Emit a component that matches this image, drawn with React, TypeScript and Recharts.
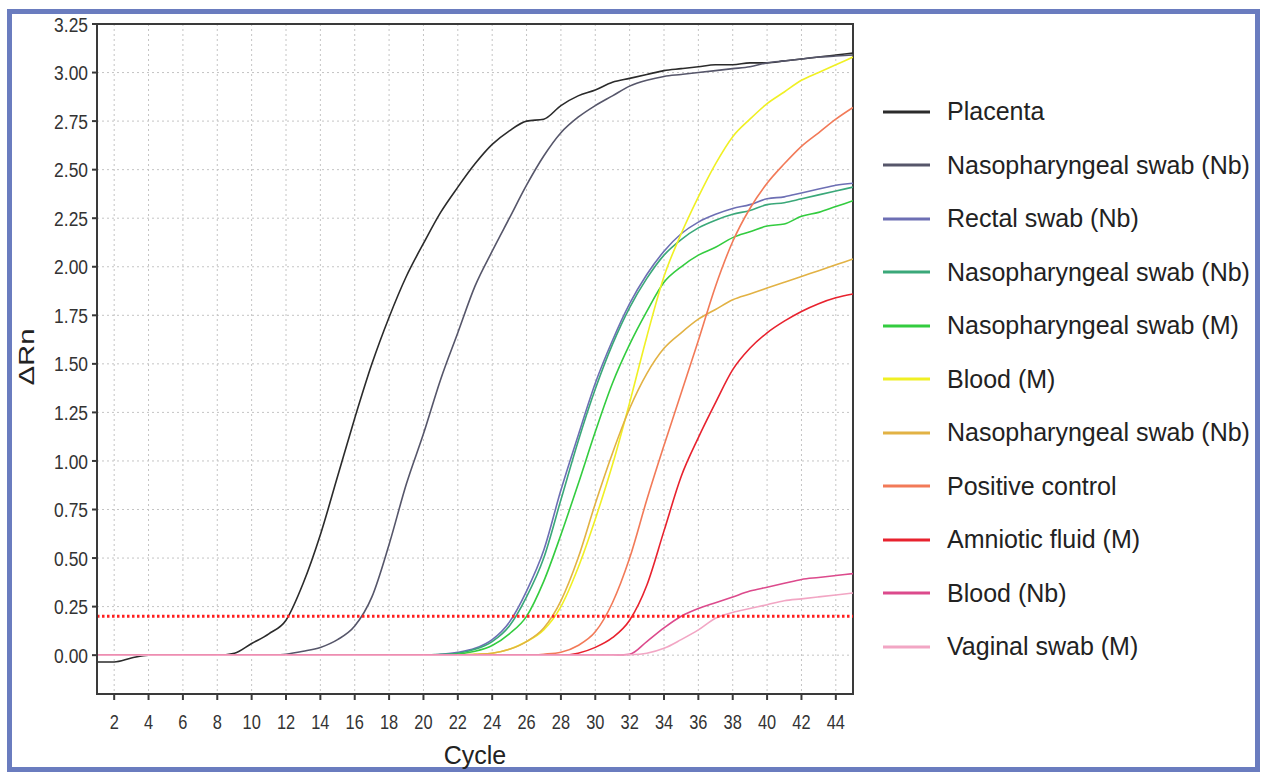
import React from "react";
import {
  LineChart,
  Line,
  XAxis,
  YAxis,
  CartesianGrid,
  ReferenceLine,
  ReferenceArea,
  Label,
} from "recharts";

// amplification plot: ΔRn per cycle for each sample
const cycles = [
  1, 2, 3, 4, 5, 6, 7, 8, 9, 10, 11, 12, 13, 14, 15, 16, 17, 18, 19, 20, 21, 22,
  23, 24, 25, 26, 27, 28, 29, 30, 31, 32, 33, 34, 35, 36, 37, 38, 39, 40, 41, 42,
  43, 44, 45,
];

const placenta = [
  -0.035, -0.035, -0.015, 0, 0, 0, 0, 0, 0.01, 0.06, 0.11, 0.18, 0.37, 0.62,
  0.92, 1.22, 1.5, 1.74, 1.95, 2.12, 2.28, 2.41, 2.53, 2.63, 2.7, 2.75, 2.76,
  2.83, 2.88, 2.91, 2.95, 2.97, 2.99, 3.01, 3.02, 3.03, 3.04, 3.04, 3.05, 3.05,
  3.06, 3.07, 3.08, 3.09, 3.1,
];
const nasoNbGray = [
  0, 0, 0, 0, 0, 0, 0, 0, 0, 0, 0, 0.005, 0.02, 0.04, 0.08, 0.15, 0.3, 0.57,
  0.88, 1.14, 1.42, 1.66, 1.9, 2.08, 2.25, 2.42, 2.57, 2.69, 2.77, 2.83, 2.88,
  2.93, 2.96, 2.98, 2.99, 3.0, 3.01, 3.02, 3.03, 3.05, 3.06, 3.07, 3.08, 3.085,
  3.09,
];
const rectalNb = [
  0, 0, 0, 0, 0, 0, 0, 0, 0, 0, 0, 0, 0, 0, 0, 0, 0, 0, 0, 0, 0.005, 0.015,
  0.035, 0.08, 0.17, 0.33, 0.54, 0.85, 1.13, 1.4, 1.62, 1.81, 1.96, 2.08, 2.17,
  2.23, 2.27, 2.3, 2.32, 2.35, 2.36, 2.38, 2.4, 2.42, 2.43,
];
const nasoNbTeal = [
  0, 0, 0, 0, 0, 0, 0, 0, 0, 0, 0, 0, 0, 0, 0, 0, 0, 0, 0, 0, 0.005, 0.01, 0.03,
  0.07, 0.15, 0.3, 0.5, 0.8, 1.1, 1.37, 1.6, 1.79, 1.94, 2.06, 2.14, 2.2, 2.24,
  2.27, 2.29, 2.32, 2.33, 2.35, 2.37, 2.39, 2.41,
];
const nasoM = [
  0, 0, 0, 0, 0, 0, 0, 0, 0, 0, 0, 0, 0, 0, 0, 0, 0, 0, 0, 0, 0, 0.005, 0.02,
  0.05, 0.11, 0.2, 0.38, 0.62, 0.88, 1.15, 1.4, 1.6, 1.77, 1.92, 2.0, 2.06, 2.1,
  2.15, 2.18, 2.21, 2.22, 2.26, 2.28, 2.31, 2.34,
];
const bloodM = [
  0, 0, 0, 0, 0, 0, 0, 0, 0, 0, 0, 0, 0, 0, 0, 0, 0, 0, 0, 0, 0, 0, 0.005, 0.01,
  0.03, 0.07, 0.13, 0.25, 0.45, 0.7, 0.98, 1.3, 1.64, 1.95, 2.17, 2.36, 2.53,
  2.67, 2.76, 2.84, 2.9, 2.96, 3.0, 3.04, 3.08,
];
const nasoNbGold = [
  0, 0, 0, 0, 0, 0, 0, 0, 0, 0, 0, 0, 0, 0, 0, 0, 0, 0, 0, 0, 0, 0, 0.005, 0.01,
  0.03, 0.07, 0.14, 0.28, 0.5, 0.78, 1.04, 1.27, 1.45, 1.58, 1.66, 1.73, 1.78,
  1.83, 1.86, 1.89, 1.92, 1.95, 1.98, 2.01, 2.04,
];
const positiveControl = [
  0, 0, 0, 0, 0, 0, 0, 0, 0, 0, 0, 0, 0, 0, 0, 0, 0, 0, 0, 0, 0, 0, 0, 0, 0, 0,
  0.005, 0.015, 0.05, 0.12, 0.27, 0.5, 0.8, 1.08, 1.35, 1.62, 1.9, 2.13, 2.3,
  2.43, 2.53, 2.62, 2.69, 2.76, 2.82,
];
const amnioticM = [
  0, 0, 0, 0, 0, 0, 0, 0, 0, 0, 0, 0, 0, 0, 0, 0, 0, 0, 0, 0, 0, 0, 0, 0, 0, 0,
  0, 0, 0.01, 0.04, 0.09, 0.18, 0.36, 0.64, 0.92, 1.12, 1.3, 1.47, 1.58, 1.66,
  1.72, 1.77, 1.81, 1.84, 1.86,
];
const bloodNb = [
  0, 0, 0, 0, 0, 0, 0, 0, 0, 0, 0, 0, 0, 0, 0, 0, 0, 0, 0, 0, 0, 0, 0, 0, 0, 0,
  0, 0, 0, 0, 0, 0.005, 0.07, 0.14, 0.2, 0.24, 0.27, 0.3, 0.33, 0.35, 0.37,
  0.39, 0.4, 0.41, 0.42,
];
const vaginalM = [
  0, 0, 0, 0, 0, 0, 0, 0, 0, 0, 0, 0, 0, 0, 0, 0, 0, 0, 0, 0, 0, 0, 0, 0, 0, 0,
  0, 0, 0, 0, 0, 0.002, 0.01, 0.035, 0.08, 0.13, 0.19, 0.22, 0.24, 0.26, 0.28,
  0.29, 0.3, 0.31, 0.32,
];

const threshold = 0.2;
const xTicks = [
  2, 4, 6, 8, 10, 12, 14, 16, 18, 20, 22, 24, 26, 28, 30, 32, 34, 36, 38, 40, 42,
  44,
];
const yTicks = [
  0, 0.25, 0.5, 0.75, 1, 1.25, 1.5, 1.75, 2, 2.25, 2.5, 2.75, 3, 3.25,
];

const series = [
  { key: "placenta", name: "Placenta", color: "#2b2b2b", values: placenta },
  { key: "nasoNbGray", name: "Nasopharyngeal swab (Nb)", color: "#56566a", values: nasoNbGray },
  { key: "rectalNb", name: "Rectal swab (Nb)", color: "#6d6fb4", values: rectalNb },
  { key: "nasoNbTeal", name: "Nasopharyngeal swab (Nb)", color: "#3aa879", values: nasoNbTeal },
  { key: "nasoM", name: "Nasopharyngeal swab (M)", color: "#33cc3f", values: nasoM },
  { key: "bloodM", name: "Blood (M)", color: "#f0f024", values: bloodM },
  { key: "nasoNbGold", name: "Nasopharyngeal swab (Nb)", color: "#e2b244", values: nasoNbGold },
  { key: "positiveControl", name: "Positive control", color: "#f27a58", values: positiveControl },
  { key: "amnioticM", name: "Amniotic fluid (M)", color: "#e8222e", values: amnioticM },
  { key: "bloodNb", name: "Blood (Nb)", color: "#dc4a8c", values: bloodNb },
  { key: "vaginalM", name: "Vaginal swab (M)", color: "#f2a6c4", values: vaginalM },
];

const chartData = cycles.map((cycle, i) => {
  const row: Record<string, number> = { cycle };
  series.forEach((s) => {
    row[s.key] = s.values[i];
  });
  return row;
});

const FONT = "'Liberation Sans', Arial, Helvetica, sans-serif";

// the source figure's axis text is a bit narrow, so squeeze it horizontally
const XTick = ({ x, y, payload }: any) => (
  <g transform={`translate(${x},${y})`}>
    <text
      transform="scale(0.82,1)"
      textAnchor="middle"
      dy="0.71em"
      fontSize={20}
      fill="#333"
    >
      {payload.value}
    </text>
  </g>
);

const YTick = ({ x, y, payload }: any) => (
  <g transform={`translate(${x},${y})`}>
    <text
      transform="scale(0.83,1)"
      textAnchor="end"
      dy="0.36em"
      fontSize={21}
      fill="#333"
    >
      {Number(payload.value).toFixed(2)}
    </text>
  </g>
);

const App = () => {
  return (
    <div
      style={{
        position: "fixed",
        left: 0,
        top: 0,
        width: 1262,
        height: 772,
        overflow: "hidden",
        background: "#ffffff",
        fontFamily: FONT,
      }}
    >
      <div
        style={{
          position: "absolute",
          left: 7,
          top: 9,
          width: 1253,
          height: 763,
          border: "5px solid #6a7cbf",
          boxSizing: "border-box",
        }}
      />
      <LineChart
        width={1262}
        height={772}
        data={chartData}
        margin={{ top: 24, right: 409, bottom: 18, left: 37 }}
        style={{ position: "absolute", left: 0, top: 0, fontFamily: FONT }}
      >
        <CartesianGrid stroke="#c4c4c4" strokeDasharray="2 3" />
        <XAxis
          type="number"
          dataKey="cycle"
          domain={[1, 45]}
          ticks={xTicks}
          allowDataOverflow
          height={60}
          axisLine={{ stroke: "#3a3a3a", strokeWidth: 2 }}
          tickLine={{ stroke: "#3a3a3a", strokeWidth: 2 }}
          tickSize={6}
          tickMargin={15}
          tick={<XTick />}
        >
          <Label
            content={({ viewBox }: any) => (
              <text
                x={viewBox.x + viewBox.width / 2}
                y={viewBox.y + 70}
                textAnchor="middle"
                fontSize={25}
                fill="#222"
              >
                Cycle
              </text>
            )}
          />
        </XAxis>
        <YAxis
          type="number"
          domain={[-0.2, 3.25]}
          ticks={yTicks}
          allowDataOverflow
          width={60}
          axisLine={{ stroke: "#3a3a3a", strokeWidth: 2 }}
          tickLine={{ stroke: "#3a3a3a", strokeWidth: 2 }}
          tickSize={5}
          tickMargin={4}
          tick={<YTick />}
        >
          <Label
            content={({ viewBox }: any) => {
              const cx = viewBox.x - 11;
              const cy = viewBox.y + viewBox.height / 2 - 2;
              return (
                <g transform={`translate(${cx},${cy}) rotate(-90) scale(1.05,0.8)`}>
                  <text
                    x={0}
                    y={0}
                    textAnchor="middle"
                    dy="0.36em"
                    fontSize={28}
                    fill="#222"
                  >
                    ΔRn
                  </text>
                </g>
              );
            }}
          />
        </YAxis>
        <ReferenceArea
          x1={1}
          x2={45}
          y1={-0.2}
          y2={3.25}
          fill="none"
          stroke="#3a3a3a"
          strokeWidth={2}
        />
        {series.map((s) => (
          <Line
            key={s.key}
            type="monotone"
            dataKey={s.key}
            name={s.name}
            stroke={s.color}
            strokeWidth={1.6}
            dot={false}
            activeDot={false}
            isAnimationActive={false}
          />
        ))}
        <ReferenceLine
          y={threshold}
          stroke="#ff1f1f"
          strokeWidth={3}
          strokeDasharray="2.5 2.5"
        />
      </LineChart>
      <div style={{ position: "absolute", left: 883, top: 85 }}>
        {series.map((s, i) => (
          <div
            key={s.key + i}
            style={{
              display: "flex",
              alignItems: "center",
              height: 53.5,
              whiteSpace: "nowrap",
            }}
          >
            <svg width={64} height={10} style={{ flex: "none" }}>
              <line x1={0} y1={5} x2={47} y2={5} stroke={s.color} strokeWidth={3} />
            </svg>
            <span style={{ fontSize: 25, color: "#222" }}>{s.name}</span>
          </div>
        ))}
      </div>
    </div>
  );
};

export default App;
